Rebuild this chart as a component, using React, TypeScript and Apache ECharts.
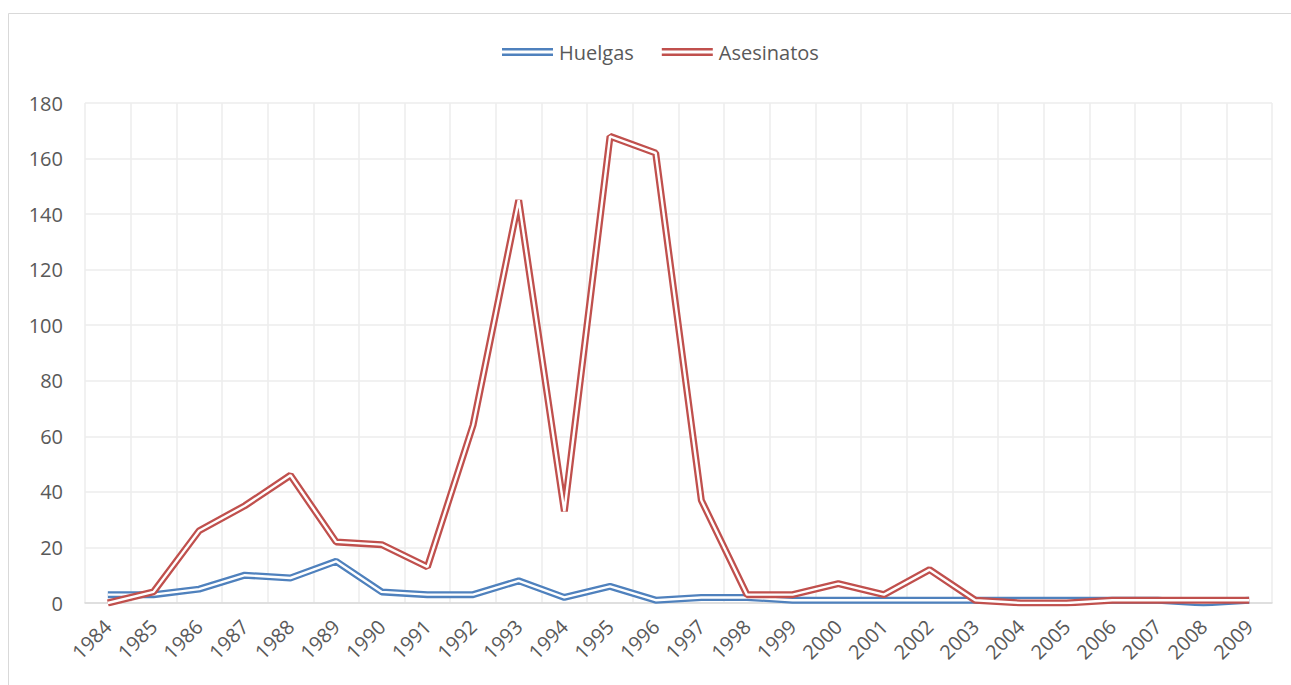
import React, { useEffect, useRef } from "react";
import * as echarts from "echarts";

const years = ["1984","1985","1986","1987","1988","1989","1990","1991","1992","1993","1994","1995","1996","1997","1998","1999","2000","2001","2002","2003","2004","2005","2006","2007","2008","2009"];
const huelgas = [3,3,5,10,9,15,4,3,3,8,2,6,1,2,2,1,1,1,1,1,1,1,1,1,0,1];
const asesinatos = [0,4,26,35,46,22,21,13,64,145,33,168,162,37,3,3,7,3,12,1,0,0,1,1,1,1];
const yTicks = { min: 0, max: 180, interval: 20 };

const BLUE = "#4F81BD";
const RED = "#C0504D";
const TEXT = "#595959";
const FONT = "'Open Sans', 'Noto Sans', sans-serif";

export default function App() {
  const ref = useRef<HTMLDivElement>(null);
  useEffect(() => {
    if (!ref.current) return;
    const chart = echarts.init(ref.current, null, { renderer: "svg" });
    const outer = (name: string, data: number[], color: string) => ({
      name,
      type: "line",
      data,
      symbol: "none",
      lineStyle: { color, width: 7, join: "bevel" },
      itemStyle: { color },
      silent: true,
    });
    const inner = (name: string, data: number[]) => ({
      name,
      type: "line",
      data,
      symbol: "none",
      lineStyle: { color: "#ffffff", width: 2.4, join: "bevel" },
      itemStyle: { color: "#ffffff" },
      silent: true,
    });
    chart.setOption({
      animation: false,
      backgroundColor: "#ffffff",
      textStyle: { fontFamily: FONT },
      graphic: [
        {
          type: "rect",
          shape: { x: 8.5, y: 13.5, width: 1320, height: 700 },
          style: { fill: "none", stroke: "#d9d9d9", lineWidth: 1 },
          silent: true,
        },
      ],
      legend: {
        data: ["Huelgas", "Asesinatos"],
        left: 497,
        top: 37,
        itemWidth: 51,
        itemHeight: 8,
        itemGap: 28,
        icon: "path://M0,0H51V2.4H0Z M0,5.6H51V8H0Z",
        textStyle: { color: TEXT, fontSize: 20, fontFamily: FONT, padding: [0, 0, 0, 1] },
      },
      grid: { left: 85, top: 103, width: 1187, height: 500, containLabel: false },
      xAxis: {
        type: "category",
        data: years,
        boundaryGap: true,
        axisLine: { lineStyle: { color: "#d9d9d9", width: 1.5 } },
        axisTick: { show: false },
        splitLine: { show: true, lineStyle: { color: "#ededed", width: 1.5 } },
        axisLabel: {
          rotate: 45,
          color: TEXT,
          fontSize: 20,
          fontFamily: FONT,
          margin: 20,
          interval: 0,
        },
      },
      yAxis: {
        type: "value",
        min: yTicks.min,
        max: yTicks.max,
        interval: yTicks.interval,
        axisLine: { show: false },
        axisTick: { show: false },
        splitLine: { show: true, lineStyle: { color: "#ededed", width: 1.5 } },
        axisLabel: { color: TEXT, fontSize: 20, fontFamily: FONT, margin: 22 },
      },
      series: [
        outer("Huelgas", huelgas, BLUE),
        inner("Huelgas ", huelgas),
        outer("Asesinatos", asesinatos, RED),
        inner("Asesinatos ", asesinatos),
      ],
    });
    return () => chart.dispose();
  }, []);
  return (
    <div
      ref={ref}
      style={{ position: "absolute", left: 0, top: 0, width: 1291, height: 685 }}
    />
  );
}
